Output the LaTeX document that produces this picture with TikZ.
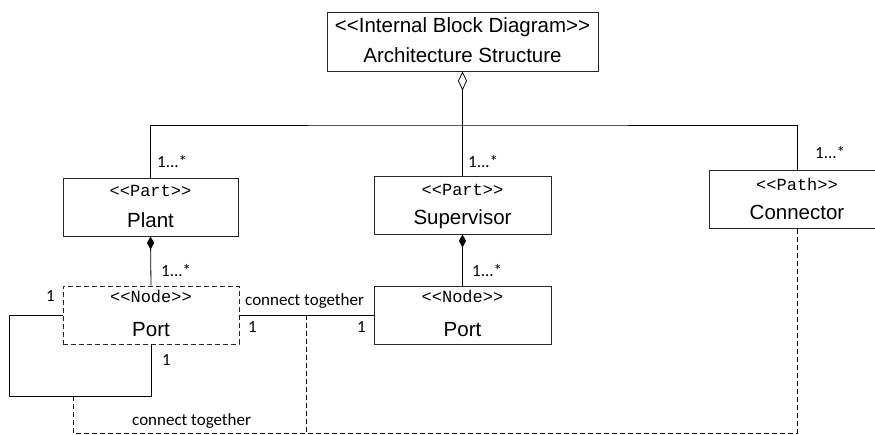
\documentclass[tikz,border=0pt]{standalone}
\usepackage{fontspec}
\setmainfont{Liberation Sans}
\newfontfamily\stereofont{Liberation Mono}
\newfontfamily\labelfont{Carlito}
\usetikzlibrary{arrows.meta}
\begin{document}
\begin{tikzpicture}[x=1pt,y=-1pt,
  box/.style={draw=black!85, line width=0.9pt, minimum width=176pt, minimum height=58pt, inner sep=0pt, fill=white},
  dbox/.style={box, dash pattern=on 5pt off 3pt},
  maintext/.style={anchor=base, inner sep=0pt, font=\fontsize{20.5}{24}\selectfont},
  stereo/.style={anchor=base, inner sep=0pt, font=\stereofont\fontsize{17}{20}\selectfont},
  mult/.style={anchor=base west, inner sep=0pt, font=\labelfont\fontsize{17}{20}\selectfont},
  link/.style={draw=black, line width=0.8pt},
  dlink/.style={link, dash pattern=on 5pt off 3pt},
]
\useasboundingbox (0,0) rectangle (875,435);

% boxes
\node[box, minimum width=271pt, minimum height=59pt] (ibd) at (462.5,41.5) {};
\node[maintext] (ibdA) at (462.5,33) {<{}<Internal Block Diagram>{}>};
\node[maintext] (ibdB) at (462.5,63) {Architecture Structure};

\node[box, minimum width=175pt] (plant) at (150.5,207) {};
\node[stereo] (plantA) at (150.5,197) {<{}<Part>{}>};
\node[maintext] (plantB) at (150.5,228) {Plant};

\node[box, minimum width=177pt] (sup) at (462.5,205) {};
\node[stereo] (supA) at (462.5,196) {<{}<Part>{}>};
\node[maintext] (supB) at (462.5,225) {Supervisor};

\node[box] (conn) at (797,199) {};
\node[stereo] (connA) at (797,191) {<{}<Path>{}>};
\node[maintext] (connB) at (797,220) {Connector};

\node[dbox] (lport) at (151,315) {};
\node[stereo] (lportA) at (151,303) {<{}<Node>{}>};
\node[maintext] (lportB) at (151,337) {Port};

\node[box, minimum width=177pt] (rport) at (462.5,315) {};
\node[stereo] (rportA) at (462.5,303) {<{}<Node>{}>};
\node[maintext] (rportB) at (462.5,337) {Port};

% aggregation / composition
\coordinate (bus) at (462.5,125);
\draw[link, {Diamond[open,length=19pt,width=9pt]}-] (ibd.south) -- (sup.north);
\draw[link] (plant.north) |- (bus) -| (conn.north);
\draw[link, {Diamond[length=13pt,width=7pt]}-] (plant.south) -- (lport.north);
\draw[link, {Diamond[length=13pt,width=7pt]}-] (sup.south) -- (rport.north);

% connections
\draw[link] (lport.east) -- (rport.west);
\coordinate (loopc) at (9.5,396);
\draw[link] (lport.west) -| (loopc) -| (lport.south);

\coordinate (d1) at (73,396);
\coordinate (d3) at (73,433);
\coordinate (d2) at (306,315);
\draw[dlink] (d1) -- (d3) -| (conn.south);
\draw[dlink] (d2) -- (d2 |- d3);

% multiplicities and labels
\node[mult] (m1) at (157,168) {1...*};
\node[mult] (m2) at (468,168) {1...*};
\node[mult] (m3) at (815,159) {1...*};
\node[mult] (m4) at (161,277) {1...*};
\node[mult] (m5) at (472,277) {1...*};
\node[mult] (m6) at (46,302) {1};
\node[mult] (m7) at (248,333) {1};
\node[mult] (m8) at (162,365) {1};
\node[mult] (m9) at (357,333) {1};
\node[mult] (ct1) at (245,306) {connect together};
\node[mult] (ct2) at (132,425) {connect together};
\end{tikzpicture}
\end{document}
